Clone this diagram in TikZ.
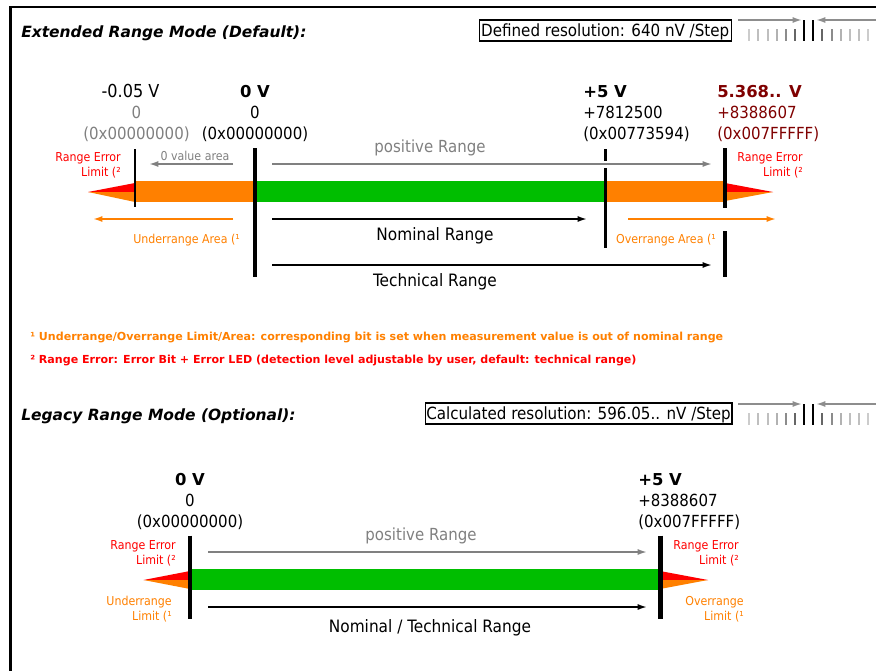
\documentclass[tikz,border=0pt]{standalone}
\usepackage{fontspec}
\setmainfont{DejaVu Sans Condensed}
\newfontfamily\widefont{DejaVu Sans}
\usetikzlibrary{arrows.meta,positioning}

\definecolor{rangegreen}{HTML}{00BE00}
\definecolor{rangeorange}{HTML}{FF8000}
\definecolor{rangered}{HTML}{FF0000}
\definecolor{limitred}{HTML}{7F0000}
\definecolor{rangegray}{HTML}{808080}

\tikzset{
    txt/.style={inner sep=0pt, anchor=base},
    txtw/.style={txt, anchor=base west},
    txte/.style={txt, anchor=base east},
    val/.style={font=\fontsize{12.5}{14}\selectfont},
    lowval/.style={font=\fontsize{13.4}{14}\selectfont},
    volt/.style={font=\widefont\bfseries\fontsize{12.3}{14}\selectfont},
    small/.style={font=\fontsize{9.2}{11}\selectfont},
    rangelbl/.style={font=\fontsize{12.8}{14}\selectfont},
    heading/.style={txtw, font=\widefont\bfseries\itshape\fontsize{11.6}{14}\selectfont},
    footnote/.style={txtw, font=\widefont\bfseries\fontsize{8.3}{11}\selectfont},
    resbox/.style={draw, line width=1.1pt, inner sep=0pt, anchor=west, text height=11.5pt, text depth=2.5pt, font=\fontsize{12.6}{14}\selectfont},
    rangearrow/.style={line width=1.25pt, -{Latex[length=7pt,width=4.5pt]}},
    thinbar/.style={line width=1.9pt},
    thickbar/.style={line width=3.3pt}
}

\begin{document}
\begin{tikzpicture}[x=0.75pt, y=-0.75pt]
    \useasboundingbox (0, 0) rectangle (876, 671);

    %%frame
    \coordinate (fa) at (10.5, 671);
    \coordinate (fb) at (10.5, 7);
    \coordinate (fc) at (876, 7);
    \draw[line width=1.9pt] (fa) -- (fb) -- (fc);

    %%step icons
    \foreach \y/\n in {20/a, 404/b}{
        \coordinate (il\n) at (738, \y);
        \coordinate (im\n) at (802, \y);
        \coordinate (ir\n) at (876, \y);
        \coordinate (in\n) at (816, \y);
        \draw[rangearrow, rangegray!90] (il\n) to (im\n);
        \draw[rangearrow, rangegray!90] (ir\n) to (in\n);
        \draw[line width=1.7pt] (804, \y) to (804, \y+20.5);
        \draw[line width=1.7pt] (813, \y) to (813, \y+20.5);
        \foreach \x/\g in {749/20, 758.3/25, 767.7/25, 776.7/30, 786/45, 795/60,
                           822/60, 831.7/45, 841/30, 850/25, 859.3/25, 868.3/20}{
            \draw[line width=1.7pt, black!\g] (\x, \y+9) to (\x, \y+20.5);
        }
    }

    %%extended
    \node[heading] (exttitle) at (21, 37) {Extended Range Mode (Default):};
    \node[resbox, minimum height=15.5pt, minimum width=189pt] (extres) at (478.5, 30.5) {Defined resolution: 640 nV /Step};

    %%band
    \fill[rangered] (135, 183) -- (88, 192) -- (135, 192) -- cycle;
    \fill[rangeorange] (135, 192) -- (88, 192) -- (135, 202) -- cycle;
    \fill[rangered] (725, 183) -- (773, 192) -- (725, 192) -- cycle;
    \fill[rangeorange] (725, 192) -- (773, 192) -- (725, 201) -- cycle;
    \fill[rangeorange] (135, 181) rectangle (255, 202);
    \fill[rangegreen] (255, 181) rectangle (605, 202);
    \fill[rangeorange] (605, 181) rectangle (725, 202);

    %%-0.05 V
    \node[txt, lowval] (lowvolt) at (130.5, 97) {-0.05 V};
    \node[txt, val, rangegray] (lowdec) at (136.5, 118) {0};
    \node[txt, val, rangegray] (lowhex) at (136.5, 139) {(0x00000000)};
    \coordinate (lowa) at (135, 149);
    \coordinate (lowb) at (135, 207);
    \draw[thinbar] (lowa) to (lowb);

    %%0 V
    \node[txt, volt] (zerovolt) at (255, 97) {0 V};
    \node[txt, val] (zerodec) at (255, 118) {0};
    \node[txt, val] (zerohex) at (255, 139) {(0x00000000)};
    \coordinate (zeroa) at (255, 148);
    \coordinate (zerob) at (255, 277);
    \draw[thickbar] (zeroa) to (zerob);

    %%+5 V
    \node[txtw, volt] (fivevolt) at (583, 97) {+5 V};
    \node[txtw, val] (fivedec) at (583, 118) {+7812500};
    \node[txtw, val] (fivehex) at (583, 139) {(0x00773594)};
    \coordinate (fivea) at (605.5, 149);
    \coordinate (fiveb) at (605.5, 160.5);
    \coordinate (fivec) at (605.5, 168);
    \coordinate (fived) at (605.5, 248);
    \draw[thinbar] (fivea) to (fiveb);
    \draw[thinbar] (fivec) to (fived);

    %%5.368 V
    \node[txtw, volt, limitred] (maxvolt) at (717, 97) {5.368.. V};
    \node[txtw, val, limitred] (maxdec) at (717, 118) {+8388607};
    \node[txtw, val, limitred] (maxhex) at (717, 139) {(0x007FFFFF)};
    \coordinate (maxa) at (725, 148);
    \coordinate (maxb) at (725, 208);
    \coordinate (maxc) at (725, 231);
    \coordinate (maxd) at (725, 277);
    \draw[thickbar] (maxa) to (maxb);
    \draw[thickbar] (maxc) to (maxd);

    %%arrows
    \coordinate (zva) at (233, 164);
    \coordinate (zvb) at (149, 164);
    \coordinate (posa) at (272, 164);
    \coordinate (posb) at (712, 164);
    \coordinate (unda) at (233, 219);
    \coordinate (undb) at (93, 219);
    \coordinate (ovra) at (628, 219);
    \coordinate (ovrb) at (776, 219);
    \coordinate (noma) at (272, 219);
    \coordinate (nomb) at (587, 219);
    \coordinate (teca) at (272, 265);
    \coordinate (tecb) at (712, 265);
    \draw[rangearrow, rangegray] (zva) to (zvb);
    \draw[rangearrow, rangegray] (posa) to (posb);
    \draw[rangearrow, rangeorange] (unda) to (undb);
    \draw[rangearrow, rangeorange] (ovra) to (ovrb);
    \draw[rangearrow] (noma) to (nomb);
    \draw[rangearrow] (teca) to (tecb);

    %%labels
    \node[txt, small, rangegray] (zvlabel) at (195, 160) {0 value area};
    \node[txt, val, rangegray] (poslabel) at (430, 152) {positive Range};
    \node[txt, rangelbl] (nomlabel) at (435, 240) {Nominal Range};
    \node[txt, rangelbl] (teclabel) at (435, 286) {Technical Range};
    \node[txte, small, rangered] (errla) at (121, 161) {Range Error};
    \node[txte, small, rangered] (errlb) at (121, 176) {Limit (²};
    \node[txte, small, rangered] (errra) at (803, 161) {Range Error};
    \node[txte, small, rangered] (errrb) at (803, 176) {Limit (²};
    \node[txte, small, rangeorange] (undlabel) at (240, 243) {Underrange Area (¹};
    \node[txte, small, rangeorange] (ovrlabel) at (716, 243) {Overrange Area (¹};

    %%footnotes
    \node[footnote, rangeorange] (noteone) at (30, 340) {¹ Underrange/Overrange Limit/Area: corresponding bit is set when measurement value is out of nominal range};
    \node[footnote, rangered] (notetwo) at (30, 363) {² Range Error: Error Bit + Error LED (detection level adjustable by user, default: technical range)};

    %%legacy
    \node[heading] (legtitle) at (21, 420) {Legacy Range Mode (Optional):};
    \node[resbox, minimum height=15.5pt, minimum width=230pt] (legres) at (424.5, 413.5) {Calculated resolution: 596.05.. nV /Step};

    \fill[rangered] (190, 571) -- (143.5, 580) -- (190, 580) -- cycle;
    \fill[rangeorange] (190, 580) -- (143.5, 580) -- (190, 589) -- cycle;
    \fill[rangered] (660, 571) -- (708, 580) -- (660, 580) -- cycle;
    \fill[rangeorange] (660, 580) -- (708, 580) -- (660, 589) -- cycle;
    \fill[rangegreen] (190, 569) rectangle (660, 590);

    \node[txt, volt] (legzerovolt) at (190, 485) {0 V};
    \node[txt, val] (legzerodec) at (190, 506) {0};
    \node[txt, val] (legzerohex) at (190, 527) {(0x00000000)};
    \coordinate (legzeroa) at (190, 535.5);
    \coordinate (legzerob) at (190, 619);
    \draw[thickbar] (legzeroa) to (legzerob);

    \node[txtw, volt] (legfivevolt) at (638, 485) {+5 V};
    \node[txtw, val] (legfivedec) at (638, 506) {+8388607};
    \node[txtw, val] (legfivehex) at (638, 527) {(0x007FFFFF)};
    \coordinate (legfivea) at (660.5, 535.5);
    \coordinate (legfiveb) at (660.5, 619);
    \draw[thickbar] (legfivea) to (legfiveb);

    \coordinate (legposa) at (208, 552);
    \coordinate (legposb) at (647, 552);
    \coordinate (legnoma) at (208, 607);
    \coordinate (legnomb) at (647, 607);
    \draw[rangearrow, rangegray] (legposa) to (legposb);
    \draw[rangearrow] (legnoma) to (legnomb);

    \node[txt, val, rangegray] (legposlabel) at (421, 540) {positive Range};
    \node[txt, rangelbl] (legnomlabel) at (430, 632) {Nominal / Technical Range};
    \node[txte, small, rangered] (legerrla) at (176, 549) {Range Error};
    \node[txte, small, rangered] (legerrlb) at (176, 564) {Limit (²};
    \node[txte, small, rangered] (legerrra) at (739, 549) {Range Error};
    \node[txte, small, rangered] (legerrrb) at (739, 564) {Limit (²};
    \node[txte, small, rangeorange] (legunda) at (172, 605) {Underrange};
    \node[txte, small, rangeorange] (legundb) at (172, 620) {Limit (¹};
    \node[txte, small, rangeorange] (legovra) at (744, 605) {Overrange};
    \node[txte, small, rangeorange] (legovrb) at (744, 620) {Limit (¹};
\end{tikzpicture}
\end{document}
